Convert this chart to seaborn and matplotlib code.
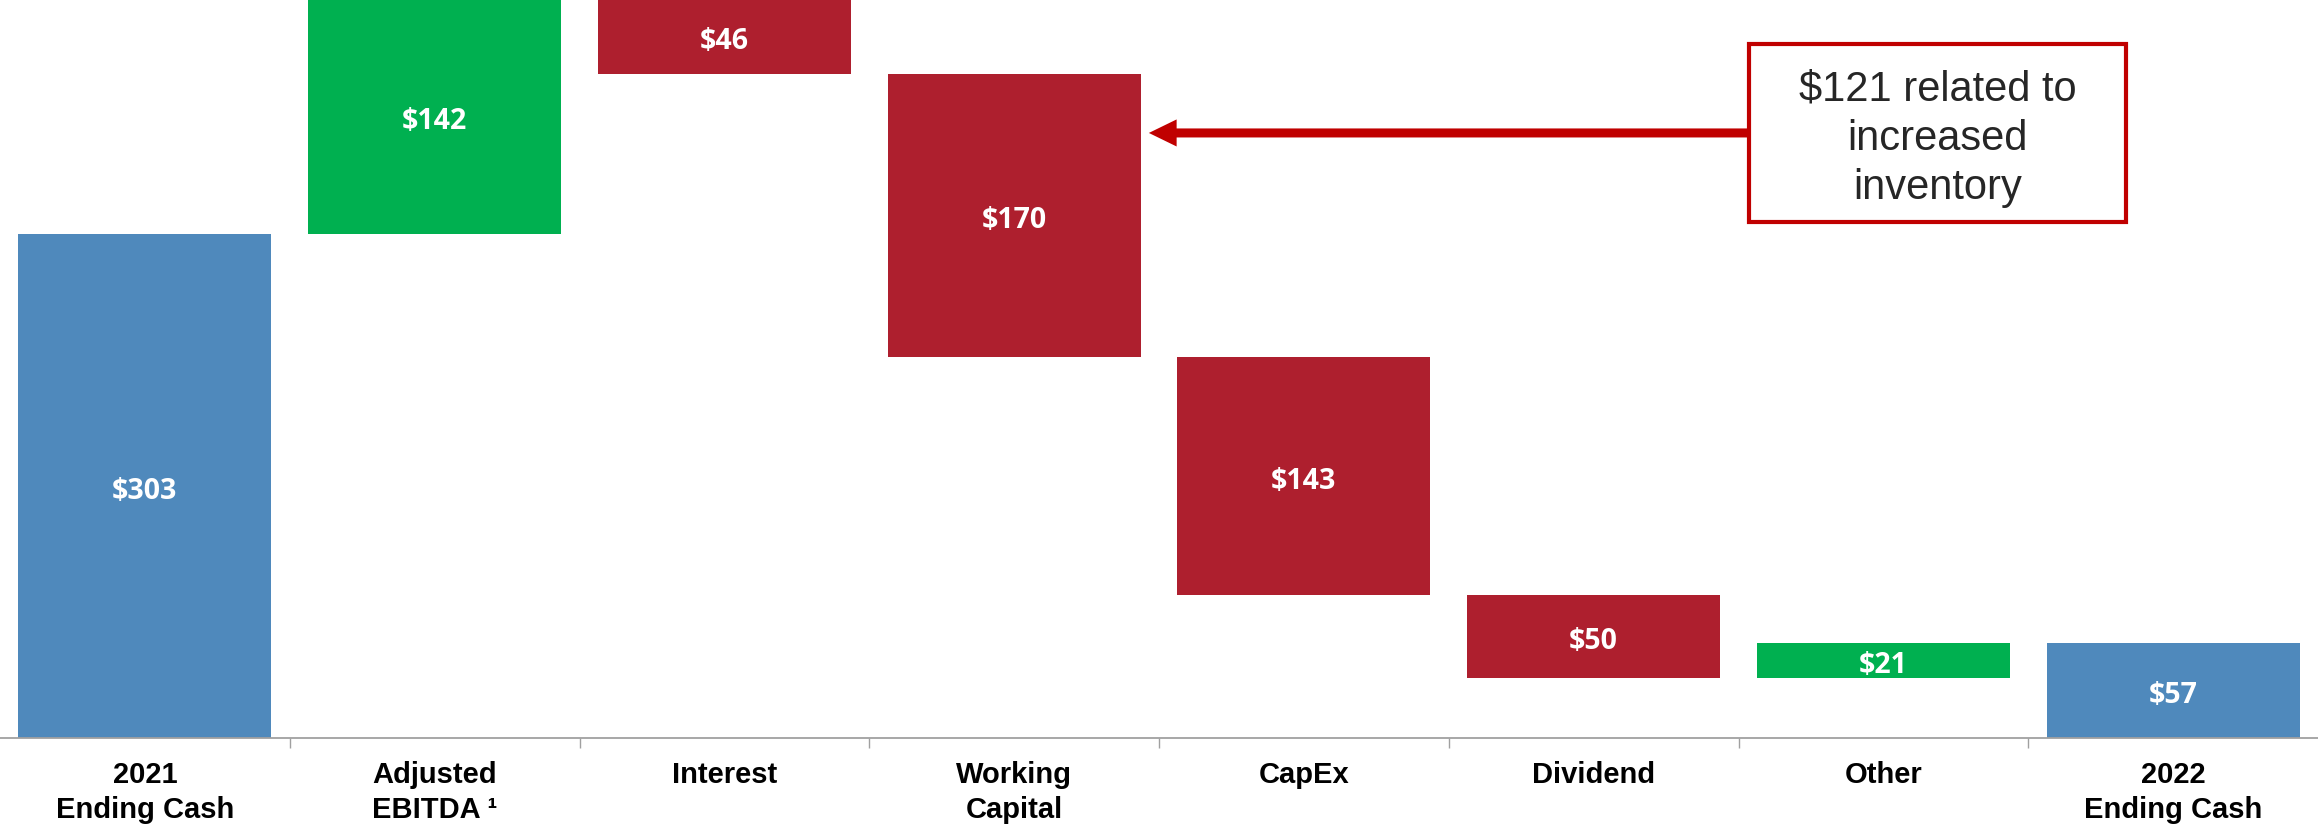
import matplotlib
matplotlib.use("Agg")
import matplotlib.pyplot as plt
from matplotlib.patches import Rectangle
import numpy as np
import seaborn as sns

# Cash bridge, $ millions
categories = ["2021\nEnding Cash", "Adjusted\nEBITDA \u00b9", "Interest", "Working\nCapital",
              "CapEx", "Dividend", "Other", "2022\nEnding Cash"]
changes = [303, 142, -46, -170, -143, -50, 21, 57]
kinds = ["total", "up", "down", "down", "down", "down", "up", "total"]
value_labels = ["$303", "$142", "$46", "$170", "$143", "$50", "$21", "$57"]
note_text = "$121 related to\nincreased\ninventory"

kind_colors = {"total": "#4F89BC", "up": "#00B050", "down": "#AE1F2E"}

# running level before each step of the waterfall
bottoms, heights = [], []
level = 0
for c, k in zip(changes, kinds):
    if k == "total":
        bottoms.append(0)
        heights.append(c)
        level = c
    else:
        start, level = level, level + c
        bottoms.append(min(start, level))
        heights.append(abs(c))

sns.set_style("white")
fig = plt.figure(figsize=(23.18, 8.25), dpi=100)
ax = fig.add_axes([0, 0.1057, 1, 0.8943])

sns.barplot(x=categories, y=heights, bottom=bottoms, width=0.874, color="#4F89BC",
            linewidth=0, ax=ax, order=categories)
for patch, k in zip(ax.patches, kinds):
    patch.set_facecolor(kind_colors[k])
    patch.set_edgecolor("none")

for i, (b, h, lab) in enumerate(zip(bottoms, heights, value_labels)):
    ax.annotate(lab, xy=(i, b + h / 2), xytext=(0, -4), textcoords="offset points",
                ha="center", va="center", color="white",
                fontsize=20.5, fontweight="bold", family=["Open Sans", "DejaVu Sans"])

ax.set_xlim(-0.5, len(categories) - 0.5)
ax.set_ylim(0, 443.4)
ax.set_yticks([])
ax.set_ylabel("")
for s in ["top", "left", "right"]:
    ax.spines[s].set_visible(False)
ax.spines["bottom"].set_color("#A0A0A0")
ax.spines["bottom"].set_linewidth(1.3)

ax.set_xticks(range(len(categories)))
ax.set_xticklabels(categories, fontsize=21, fontweight="bold",
                   family=["Liberation Sans", "DejaVu Sans"], linespacing=1.3)
ax.tick_params(axis="x", which="major", bottom=True, length=0, pad=17, colors="black")
ax.set_xticks(np.arange(0.5, len(categories) - 0.5, 1.0), minor=True)
ax.tick_params(axis="x", which="minor", bottom=True, length=7, width=1.0,
               color="#A0A0A0", direction="out")

# callout box and arrow for the working-capital step
box_x0, box_x1, box_y0, box_y1 = 5.536, 6.837, 310, 417
ax.add_patch(Rectangle((box_x0, box_y0), box_x1 - box_x0, box_y1 - box_y0,
                       facecolor="white", edgecolor="#C00000", linewidth=3, zorder=5))
ax.text((box_x0 + box_x1) / 2, 359.8, note_text, ha="center", va="center",
        fontsize=30, color="#262626", family=["Liberation Sans", "DejaVu Sans"],
        linespacing=1.3, zorder=6)
ax.annotate("", xy=(3.465, 363.5), xytext=(box_x0, 363.5),
            arrowprops=dict(arrowstyle="simple,head_length=20,head_width=19.5,tail_width=6.5",
                            mutation_scale=1, fc="#C00000", ec="none", lw=0,
                            shrinkA=0, shrinkB=0), zorder=4)

fig.savefig("out.png", dpi=100, facecolor="white")
